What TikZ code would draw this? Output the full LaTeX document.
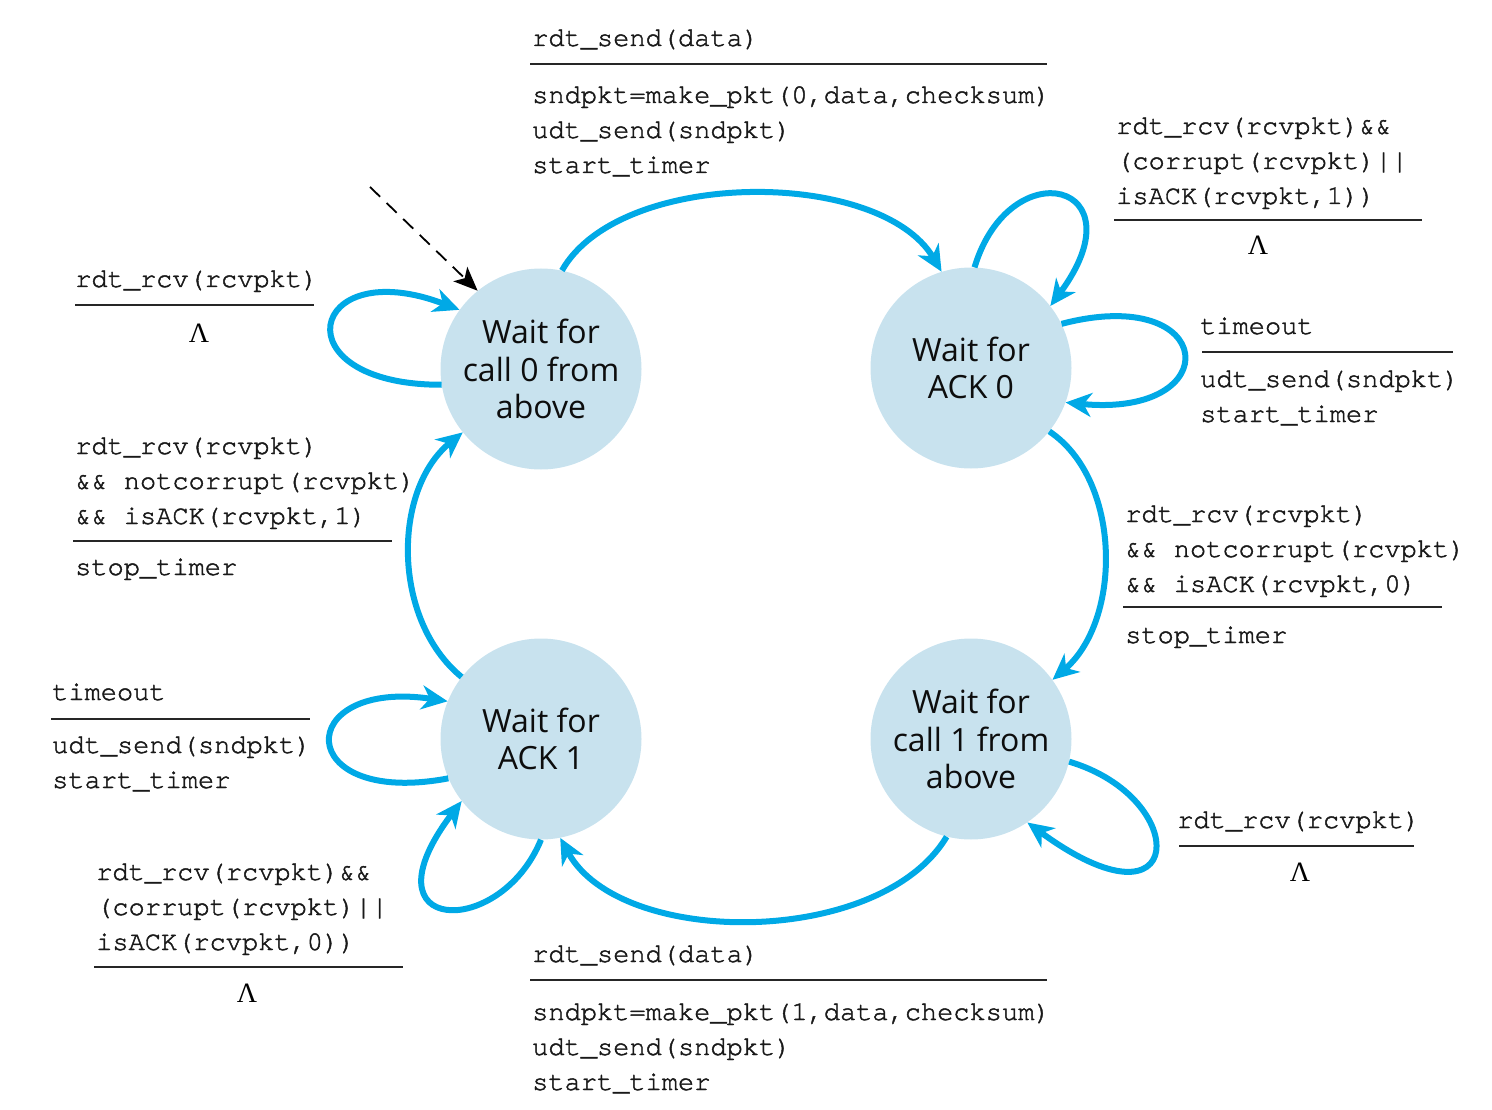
\documentclass[tikz,border=0pt]{standalone}
\usepackage{fontspec}
\setsansfont{Open Sans}
\newfontfamily\codefont[FakeBold=1.6]{TeX Gyre Cursor}
\newfontfamily\lamfont{Liberation Serif}
\usetikzlibrary{arrows.meta}
\definecolor{fsmblue}{RGB}{0,169,230}
\definecolor{fsmfill}{RGB}{200,226,238}
\tikzset{
  state/.style={circle, fill=fsmfill, minimum size=201pt, inner sep=0pt, align=center,
    font=\sffamily\fontsize{32}{37.5}\selectfont, text=black!95},
  trans/.style={draw=fsmblue, line width=6pt, -{Stealth[length=26pt,width=24pt,inset=8pt]}},
  initarrow/.style={draw=black, line width=1.8pt, dash pattern=on 14pt off 9pt,
    -{Stealth[length=24pt,width=20pt,inset=6pt]}},
  code/.style={anchor=base west, inner sep=0pt, align=left,
    font=\codefont\fontsize{27}{35}\selectfont, text=black!90},
  rule/.style={line width=2pt, draw=black!85},
  lam/.style={inner sep=0pt, font=\lamfont\fontsize{28}{30}\selectfont}
}
\begin{document}
\begin{tikzpicture}[x=1pt, y=-1pt]
\useasboundingbox (0,0) rectangle (1492,1110);
% states
\node[state] (c0) at (541,369) {Wait for\\call 0 from\\above};
\node[state] (a0) at (971,368) {Wait for\\ACK 0};
\node[state] (c1) at (971,739) {Wait for\\call 1 from\\above};
\node[state] (a1) at (541,739) {Wait for\\ACK 1};
% initial arrow
\coordinate (init) at (370,187);
\draw[initarrow] (init) -- (c0.129);
% transitions between states
\draw[trans] (c0.78) .. controls (620,168) and (880,168) .. (a0.107);
\draw[trans] (a0.-39) .. controls (1122,480) and (1122,620) .. (c1.36);
\draw[trans] (c1.256) .. controls (880,948) and (620,948) .. (a1.-79);
\draw[trans] (a1.142) .. controls (392,620) and (392,490) .. (c0.219);
% self loops
\draw[trans] (c0.189) .. controls (278,385) and (308,252) .. (c0.144);
\draw[trans] (a0.88) .. controls (1010,150) and (1142,182) .. (a0.38);
\draw[trans] (a0.26) .. controls (1218,283) and (1228,418) .. (a0.-20);
\draw[trans] (c1.-13) .. controls (1192,798) and (1188,940) .. (c1.-56);
\draw[trans] (a1.203) .. controls (292,808) and (292,678) .. (a1.158);
\draw[trans] (a1.270) .. controls (500,940) and (360,935) .. (a1.218);
% labels: top
\node[code] (evt1) at (532,46) {rdt\_send(data)};
\draw[rule] (530,64) -- (1047,64);
\node[code] (act1) at (532,173) {sndpkt=make\_pkt(0,data,checksum)\\udt\_send(sndpkt)\\start\_timer};
% labels: wait for ACK 0
\node[code] (evt2) at (1116,204) {rdt\_rcv(rcvpkt)\&\&\\(corrupt(rcvpkt)||\\isACK(rcvpkt,1))};
\draw[rule] (1114,220) -- (1422,220);
\node[lam] (act2) at (1258,245) {Λ};
\node[code] (evt3) at (1200,334) {timeout};
\draw[rule] (1202,352) -- (1453,352);
\node[code] (act3) at (1200,422) {udt\_send(sndpkt)\\start\_timer};
\node[code] (evt4) at (1125,592) {rdt\_rcv(rcvpkt)\\\&\& notcorrupt(rcvpkt)\\\&\& isACK(rcvpkt,0)};
\draw[rule] (1123,607) -- (1442,607);
\node[code] (act4) at (1125,643) {stop\_timer};
% labels: wait for call 1
\node[code] (evt5) at (1177,828) {rdt\_rcv(rcvpkt)};
\draw[rule] (1179,846) -- (1414,846);
\node[lam] (act5) at (1300,872) {Λ};
% labels: bottom
\node[code] (evt6) at (532,962) {rdt\_send(data)};
\draw[rule] (530,980) -- (1047,980);
\node[code] (act6) at (532,1090) {sndpkt=make\_pkt(1,data,checksum)\\udt\_send(sndpkt)\\start\_timer};
% labels: wait for ACK 1
\node[code] (evt7) at (96,950) {rdt\_rcv(rcvpkt)\&\&\\(corrupt(rcvpkt)||\\isACK(rcvpkt,0))};
\draw[rule] (94,967) -- (403,967);
\node[lam] (act7) at (247,993) {Λ};
\node[code] (evt8) at (52,700) {timeout};
\draw[rule] (51,719) -- (310,719);
\node[code] (act8) at (52,788) {udt\_send(sndpkt)\\start\_timer};
\node[code] (evt9) at (75,524) {rdt\_rcv(rcvpkt)\\\&\& notcorrupt(rcvpkt)\\\&\& isACK(rcvpkt,1)};
\draw[rule] (73,541) -- (392,541);
\node[code] (act9) at (75,575) {stop\_timer};
% labels: wait for call 0
\node[code] (evt10) at (75,287) {rdt\_rcv(rcvpkt)};
\draw[rule] (75,305) -- (314,305);
\node[lam] (act10) at (199,333) {Λ};
\end{tikzpicture}
\end{document}
